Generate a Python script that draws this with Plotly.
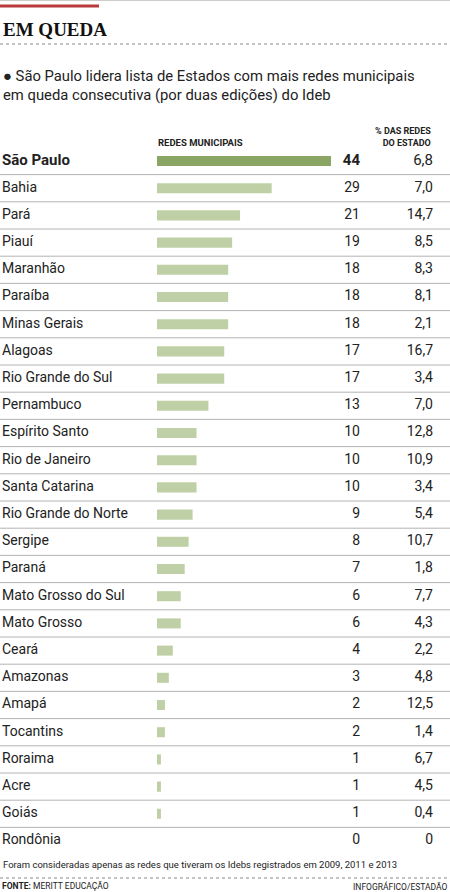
import plotly.graph_objects as go

W, H = 450, 892

TEXT = "#222222"
GRID = "#b4b4b4"
BAR_TOP = "#8aa564"
BAR = "#bfd0a6"
RED = "#b83a3a"
FONT = "Roboto, Arial, sans-serif"

states = [
    "São Paulo", "Bahia", "Pará", "Piauí", "Maranhão", "Paraíba", "Minas Gerais",
    "Alagoas", "Rio Grande do Sul", "Pernambuco", "Espírito Santo", "Rio de Janeiro",
    "Santa Catarina", "Rio Grande do Norte", "Sergipe", "Paraná", "Mato Grosso do Sul",
    "Mato Grosso", "Ceará", "Amazonas", "Amapá", "Tocantins", "Roraima", "Acre",
    "Goiás", "Rondônia",
]
redes = [44, 29, 21, 19, 18, 18, 18, 17, 17, 13, 10, 10, 10, 9, 8, 7, 6, 6, 4, 3, 2, 2, 1, 1, 1, 0]
pct_estado = [6.8, 7.0, 14.7, 8.5, 8.3, 8.1, 2.1, 16.7, 3.4, 7.0, 12.8, 10.9, 3.4, 5.4,
              10.7, 1.8, 7.7, 4.3, 2.2, 4.8, 12.5, 1.4, 6.7, 4.5, 0.4, 0]


def py(y):
    # pixel row from the top -> paper fraction
    return 1 - y / H


def fmt(v):
    return f"{v:.1f}".replace(".", ",") if v else "0"


n = len(states)
row_top, row_h = 147.4, 27.2
y_dom = [py(row_top + n * row_h), py(row_top)]

fig = go.Figure()

fig.add_trace(go.Bar(
    x=redes, y=states, orientation="h",
    marker=dict(color=[BAR_TOP] + [BAR] * (n - 1), line=dict(width=0)),
    width=0.37, hoverinfo="skip",
))


def bold(s, i):
    return f"<b>{s}</b>" if i == 0 else s


sizes = [15] + [14] * (n - 1)
fig.add_trace(go.Scatter(
    x=[2] * n, y=states, xaxis="x2", mode="text",
    text=[bold(s, i) for i, s in enumerate(states)],
    textposition="middle right",
    textfont=dict(family=FONT, size=sizes, color=TEXT),
    hoverinfo="skip",
))
fig.add_trace(go.Scatter(
    x=[360] * n, y=states, xaxis="x2", mode="text",
    text=[bold(str(v), i) for i, v in enumerate(redes)],
    textposition="middle left",
    textfont=dict(family=FONT, size=sizes, color=TEXT),
    hoverinfo="skip",
))
fig.add_trace(go.Scatter(
    x=[433] * n, y=states, xaxis="x2", mode="text",
    text=[fmt(v) for v in pct_estado],
    textposition="middle left",
    textfont=dict(family=FONT, size=[15] + [14] * (n - 1), color=TEXT),
    hoverinfo="skip",
))

shapes = [
    dict(type="line", xref="paper", yref="paper", x0=0, x1=1, y0=py(0.5), y1=py(0.5),
         line=dict(color="#cccccc", width=1)),
    dict(type="line", xref="paper", yref="paper", x0=0, x1=99 / W, y0=py(6), y1=py(6),
         line=dict(color=RED, width=3)),
    dict(type="line", xref="paper", yref="paper", x0=0, x1=1, y0=py(44), y1=py(44),
         line=dict(color="#888888", width=1, dash="dot")),
    dict(type="line", xref="paper", yref="paper", x0=0, x1=1, y0=py(878), y1=py(878),
         line=dict(color="#888888", width=1, dash="dot")),
]
for i in range(n - 1):
    shapes.append(dict(type="line", xref="paper", yref="y", x0=0, x1=1,
                       y0=i + 0.5, y1=i + 0.5, line=dict(color=GRID, width=1)))

ann = [
    dict(text="<b>EM QUEDA</b>", x=1 / W, y=py(29), xanchor="left", yanchor="middle",
         font=dict(family="Liberation Serif, serif", size=19, color="#111111")),
    dict(text="● São Paulo lidera lista de Estados com mais redes municipais<br>"
              "em queda consecutiva (por duas edições) do Ideb",
         x=1 / W, y=py(86), xanchor="left", yanchor="middle", align="left",
         font=dict(family=FONT, size=14.8, color=TEXT)),
    dict(text="<b>REDES MUNICIPAIS</b>", x=156 / W, y=py(142), xanchor="left", yanchor="middle",
         font=dict(family=FONT, size=9.5, color=TEXT)),
    dict(text="<b>% DAS REDES<br>DO ESTADO</b>", x=433 / W, y=py(137), xanchor="right",
         yanchor="middle", align="right", font=dict(family=FONT, size=9, color=TEXT)),
    dict(text="Foram consideradas apenas as redes que tiveram os Idebs registrados em 2009, 2011 e 2013",
         x=1 / W, y=py(864), xanchor="left", yanchor="middle",
         font=dict(family=FONT, size=9.5, color=TEXT)),
    dict(text="<b>FONTE:</b> MERITT EDUCAÇÃO", x=0, y=py(886), xanchor="left", yanchor="middle",
         font=dict(family=FONT, size=8.5, color=TEXT)),
    dict(text="INFOGRÁFICO/ESTADÃO", x=1, y=py(886), xanchor="right", yanchor="middle",
         font=dict(family=FONT, size=8.5, color=TEXT)),
]
for a in ann:
    a.update(xref="paper", yref="paper", showarrow=False)

fig.update_layout(
    width=W, height=H,
    margin=dict(l=0, r=0, t=0, b=0),
    paper_bgcolor="white", plot_bgcolor="rgba(0,0,0,0)",
    showlegend=False,
    xaxis=dict(domain=[157 / W, 331 / W], range=[0, 44], visible=False, fixedrange=True),
    xaxis2=dict(domain=[0, 1], range=[0, W], anchor="y", visible=False, fixedrange=True),
    yaxis=dict(domain=y_dom, range=[n - 0.5, -0.5], visible=False, fixedrange=True),
    shapes=shapes,
    annotations=ann,
)

fig.write_html("out.html", config={"displayModeBar": False},
               post_script="document.body.style.margin='0';")
